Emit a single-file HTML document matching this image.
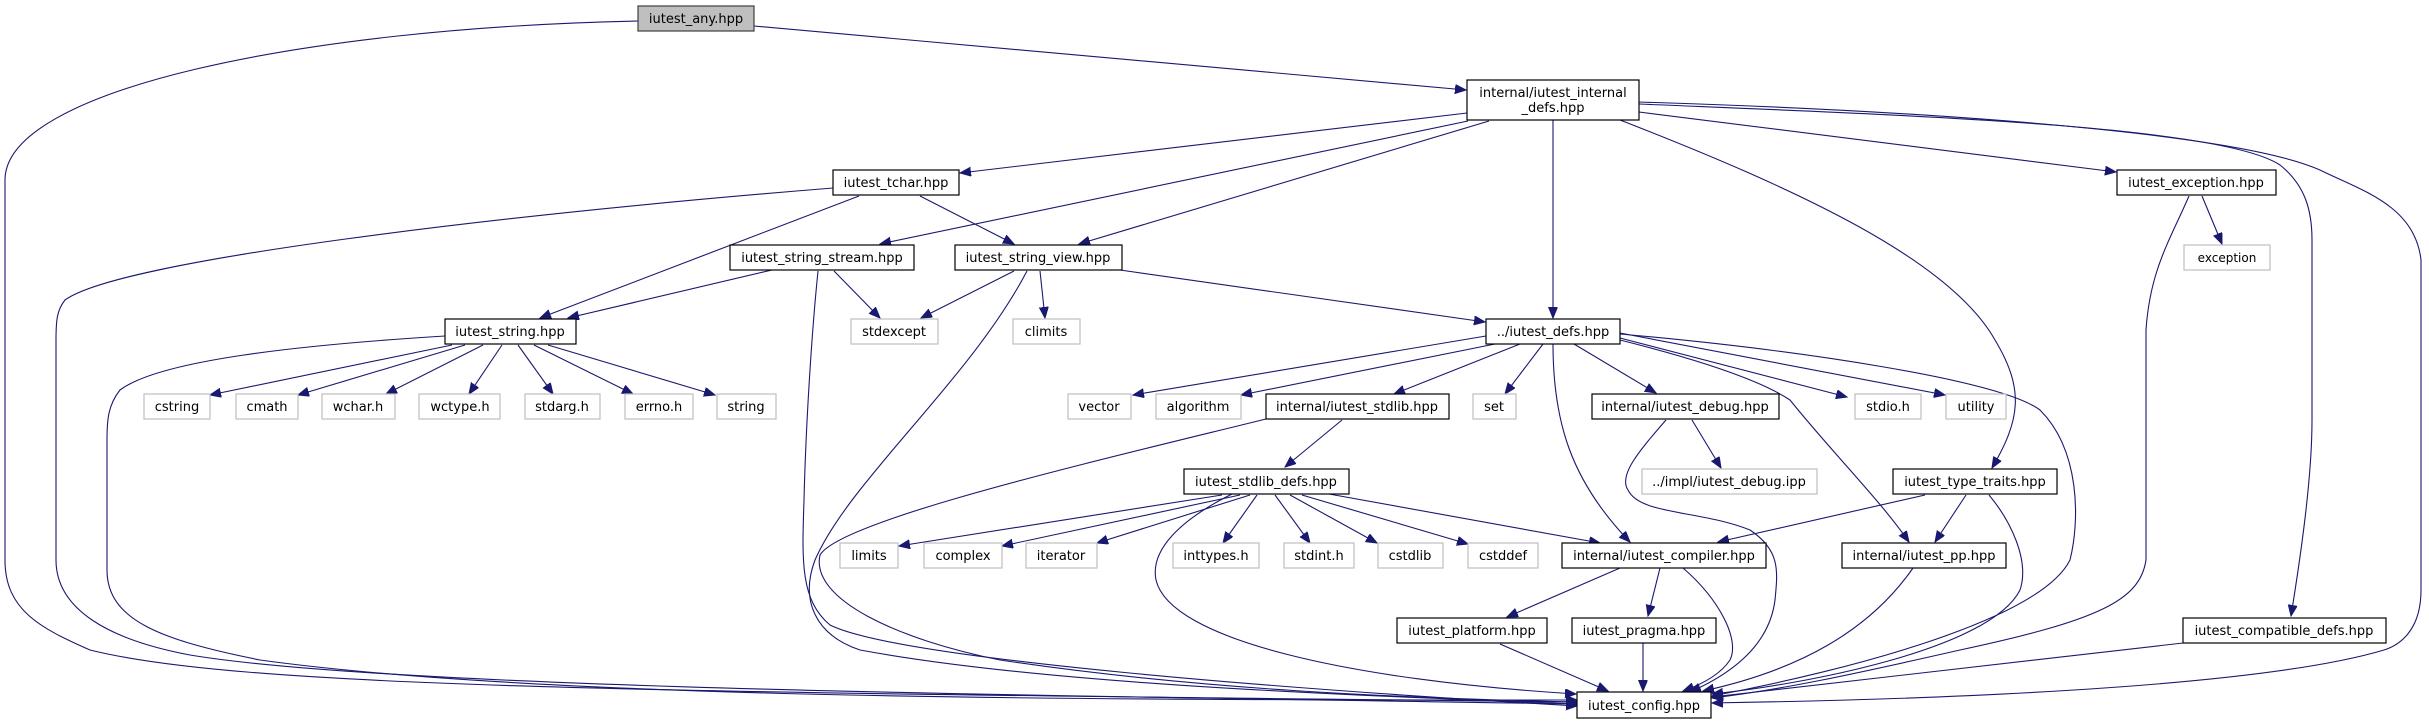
<!DOCTYPE html>
<html><head><meta charset="utf-8"><style>
html,body{margin:0;padding:0;background:#fff;}
svg{display:block;}
text{font-family:"DejaVu Sans","Liberation Sans",sans-serif;font-size:13px;fill:#000;}
.n{fill:#fff;stroke:#000;stroke-width:1.2;}
.g{fill:#fff;stroke:#bfbfbf;stroke-width:1.2;}
.e{fill:none;stroke:#191970;stroke-width:1.1;}
</style></head><body>
<svg width="2429" height="724" viewBox="0 0 2429 724" xmlns="http://www.w3.org/2000/svg">
<defs>
<marker id="a" markerUnits="userSpaceOnUse" markerWidth="12" markerHeight="10" refX="11" refY="4.5" orient="auto">
<path d="M0,0 L11,4.5 L0,9 z" fill="#191970" stroke="#191970"/>
</marker>
</defs>
<g marker-end="url(#a)">
<path class="e" d="M638,21 C300,28 5,90 5,180 L5,560 C5,610 40,628 90,650 C250,690 700,692 1577,702"/>
<path class="e" d="M754,26 L1466,90"/>
<path class="e" d="M1467,113 L960,173"/>
<path class="e" d="M1468,121 L880,244"/>
<path class="e" d="M1489,121 L1079,244"/>
<path class="e" d="M1553,120 L1553,318"/>
<path class="e" d="M1639,112 L2116,172"/>
<path class="e" d="M1620,120 C1800,190 1950,260 1995,340 C2025,390 2020,420 1992,468"/>
<path class="e" d="M1639,104 C1900,115 2220,125 2280,165 C2305,185 2312,210 2312,240 L2312,420 C2312,480 2300,560 2291,616"/>
<path class="e" d="M1639,102 C1900,110 2230,130 2320,170 C2360,190 2415,205 2421,260 L2421,590 C2421,630 2400,645 2384,650 C2250,690 1900,700 1712,703"/>
<path class="e" d="M859,196 L540,318"/>
<path class="e" d="M920,196 L1014,244"/>
<path class="e" d="M833,188 C500,215 120,260 65,300 C57,310 56,320 56,340 L56,560 C56,610 110,640 190,655 C400,690 1100,696 1577,704"/>
<path class="e" d="M772,270 L568,318"/>
<path class="e" d="M834,271 L880,318"/>
<path class="e" d="M818,271 C812,330 806,420 804,500 C802,560 800,600 830,625 C900,660 1300,690 1577,706"/>
<path class="e" d="M1014,271 L921,318"/>
<path class="e" d="M1040,271 L1045,318"/>
<path class="e" d="M1120,270 L1485,322"/>
<path class="e" d="M1027,271 C970,380 850,480 815,560 C800,600 815,635 860,650 C1050,685 1350,695 1577,704"/>
<path class="e" d="M452,345 L210,395"/>
<path class="e" d="M465,345 L298,395"/>
<path class="e" d="M483,345 L386,394"/>
<path class="e" d="M502,345 L469,394"/>
<path class="e" d="M518,345 L553,394"/>
<path class="e" d="M534,345 L633,394"/>
<path class="e" d="M548,345 L715,395"/>
<path class="e" d="M445,336 C300,345 160,360 120,390 C108,405 107,420 107,440 L107,570 C107,620 160,640 260,660 C550,700 1100,700 1577,700"/>
<path class="e" d="M2202,196 L2222,244"/>
<path class="e" d="M2189,196 C2170,240 2150,270 2146,330 L2146,560 C2140,600 2100,620 1960,650 C1850,675 1780,690 1712,698"/>
<path class="e" d="M1486,336 L1133,395"/>
<path class="e" d="M1495,344 L1241,395"/>
<path class="e" d="M1520,344 L1394,394"/>
<path class="e" d="M1543,344 L1505,394"/>
<path class="e" d="M1574,344 L1656,393"/>
<path class="e" d="M1620,338 L1847,397"/>
<path class="e" d="M1620,333 L1945,395"/>
<path class="e" d="M1553,344 C1553,420 1570,480 1630,542"/>
<path class="e" d="M1620,340 C1700,360 1760,380 1790,400 C1830,450 1880,500 1909,542"/>
<path class="e" d="M1620,334 C1800,350 2000,380 2040,410 C2080,450 2080,520 2070,560 C2040,620 1850,670 1712,696"/>
<path class="e" d="M1342,420 L1285,467"/>
<path class="e" d="M1266,419 C1100,460 840,520 820,555 C810,600 900,640 1000,660 C1200,690 1400,698 1577,702"/>
<path class="e" d="M1692,420 L1721,468"/>
<path class="e" d="M1666,420 C1640,450 1618,475 1628,490 C1640,515 1700,510 1750,530 C1780,550 1778,570 1775,600 C1770,640 1740,670 1690,692"/>
<path class="e" d="M1222,495 L899,546"/>
<path class="e" d="M1240,495 L1002,546"/>
<path class="e" d="M1250,495 L1097,543"/>
<path class="e" d="M1257,495 L1223,543"/>
<path class="e" d="M1275,495 L1310,543"/>
<path class="e" d="M1290,495 L1377,543"/>
<path class="e" d="M1302,495 L1468,544"/>
<path class="e" d="M1329,494 L1600,543"/>
<path class="e" d="M1232,494 C1180,520 1150,550 1156,580 C1170,640 1350,680 1576,694"/>
<path class="e" d="M1925,495 L1718,542"/>
<path class="e" d="M1966,495 L1935,542"/>
<path class="e" d="M1989,495 C2010,520 2030,560 2020,590 C1990,650 1800,685 1712,694"/>
<path class="e" d="M1620,568 L1507,617"/>
<path class="e" d="M1660,568 L1648,616"/>
<path class="e" d="M1683,568 C1720,600 1740,640 1730,660 C1720,675 1700,685 1683,691"/>
<path class="e" d="M1913,568 C1870,630 1800,670 1703,691"/>
<path class="e" d="M1500,644 L1608,691"/>
<path class="e" d="M1643,643 L1643,691"/>
<path class="e" d="M2183,643 L1712,697"/>
</g>
<rect x="638" y="6" width="116" height="25" fill="#bfbfbf" stroke="#404040" stroke-width="1.2"/><text x="696" y="23" text-anchor="middle">iutest_any.hpp</text>
<rect class="n" x="1467" y="80" width="172" height="40"/><text x="1553" y="97" text-anchor="middle">internal/iutest_internal</text><text x="1553" y="112" text-anchor="middle">_defs.hpp</text>
<rect class="n" x="833" y="170" width="126" height="25"/><text x="896" y="187" text-anchor="middle">iutest_tchar.hpp</text>
<rect class="n" x="2117" y="170" width="159" height="25"/><text x="2196" y="187" text-anchor="middle">iutest_exception.hpp</text>
<rect class="n" x="730" y="245" width="184" height="25"/><text x="822" y="262" text-anchor="middle">iutest_string_stream.hpp</text>
<rect class="n" x="955" y="245" width="167" height="25"/><text x="1038" y="262" text-anchor="middle">iutest_string_view.hpp</text>
<rect class="g" x="2184" y="245" width="86" height="25"/><text x="2227" y="262" text-anchor="middle" style="font-size:12px">exception</text>
<rect class="n" x="445" y="319" width="131" height="25"/><text x="510" y="336" text-anchor="middle">iutest_string.hpp</text>
<rect class="g" x="851" y="319" width="87" height="25"/><text x="894" y="336" text-anchor="middle">stdexcept</text>
<rect class="g" x="1013" y="319" width="67" height="25"/><text x="1046" y="336" text-anchor="middle">climits</text>
<rect class="n" x="1486" y="319" width="134" height="25"/><text x="1553" y="336" text-anchor="middle">../iutest_defs.hpp</text>
<rect class="g" x="144" y="394" width="66" height="25"/><text x="177" y="411" text-anchor="middle">cstring</text>
<rect class="g" x="236" y="394" width="62" height="25"/><text x="267" y="411" text-anchor="middle">cmath</text>
<rect class="g" x="322" y="394" width="73" height="25"/><text x="358" y="411" text-anchor="middle">wchar.h</text>
<rect class="g" x="419" y="394" width="81" height="25"/><text x="460" y="411" text-anchor="middle">wctype.h</text>
<rect class="g" x="525" y="394" width="75" height="25"/><text x="562" y="411" text-anchor="middle">stdarg.h</text>
<rect class="g" x="625" y="394" width="68" height="25"/><text x="659" y="411" text-anchor="middle">errno.h</text>
<rect class="g" x="717" y="394" width="59" height="25"/><text x="746" y="411" text-anchor="middle">string</text>
<rect class="g" x="1068" y="394" width="63" height="25"/><text x="1099" y="411" text-anchor="middle">vector</text>
<rect class="g" x="1156" y="394" width="85" height="25"/><text x="1198" y="411" text-anchor="middle">algorithm</text>
<rect class="n" x="1266" y="394" width="183" height="25"/><text x="1357" y="411" text-anchor="middle">internal/iutest_stdlib.hpp</text>
<rect class="g" x="1473" y="394" width="43" height="25"/><text x="1494" y="411" text-anchor="middle">set</text>
<rect class="n" x="1592" y="394" width="187" height="25"/><text x="1685" y="411" text-anchor="middle">internal/iutest_debug.hpp</text>
<rect class="g" x="1855" y="394" width="66" height="25"/><text x="1888" y="411" text-anchor="middle">stdio.h</text>
<rect class="g" x="1946" y="394" width="60" height="25"/><text x="1976" y="411" text-anchor="middle">utility</text>
<rect class="n" x="1184" y="469" width="165" height="25"/><text x="1266" y="486" text-anchor="middle">iutest_stdlib_defs.hpp</text>
<rect class="g" x="1642" y="469" width="175" height="25"/><text x="1729" y="486" text-anchor="middle">../impl/iutest_debug.ipp</text>
<rect class="n" x="1893" y="469" width="164" height="25"/><text x="1975" y="486" text-anchor="middle">iutest_type_traits.hpp</text>
<rect class="g" x="840" y="543" width="58" height="25"/><text x="869" y="560" text-anchor="middle">limits</text>
<rect class="g" x="924" y="543" width="78" height="25"/><text x="963" y="560" text-anchor="middle">complex</text>
<rect class="g" x="1026" y="543" width="71" height="25"/><text x="1061" y="560" text-anchor="middle">iterator</text>
<rect class="g" x="1173" y="543" width="86" height="25"/><text x="1216" y="560" text-anchor="middle">inttypes.h</text>
<rect class="g" x="1284" y="543" width="70" height="25"/><text x="1319" y="560" text-anchor="middle">stdint.h</text>
<rect class="g" x="1378" y="543" width="65" height="25"/><text x="1410" y="560" text-anchor="middle">cstdlib</text>
<rect class="g" x="1468" y="543" width="70" height="25"/><text x="1503" y="560" text-anchor="middle">cstddef</text>
<rect class="n" x="1562" y="543" width="204" height="25"/><text x="1664" y="560" text-anchor="middle">internal/iutest_compiler.hpp</text>
<rect class="n" x="1842" y="543" width="164" height="25"/><text x="1924" y="560" text-anchor="middle">internal/iutest_pp.hpp</text>
<rect class="n" x="1397" y="618" width="150" height="25"/><text x="1472" y="635" text-anchor="middle">iutest_platform.hpp</text>
<rect class="n" x="1572" y="618" width="144" height="25"/><text x="1644" y="635" text-anchor="middle">iutest_pragma.hpp</text>
<rect class="n" x="2183" y="618" width="203" height="25"/><text x="2284" y="635" text-anchor="middle">iutest_compatible_defs.hpp</text>
<rect class="n" x="1577" y="692" width="134" height="26"/><text x="1644" y="710" text-anchor="middle">iutest_config.hpp</text>
</svg>
</body></html>
